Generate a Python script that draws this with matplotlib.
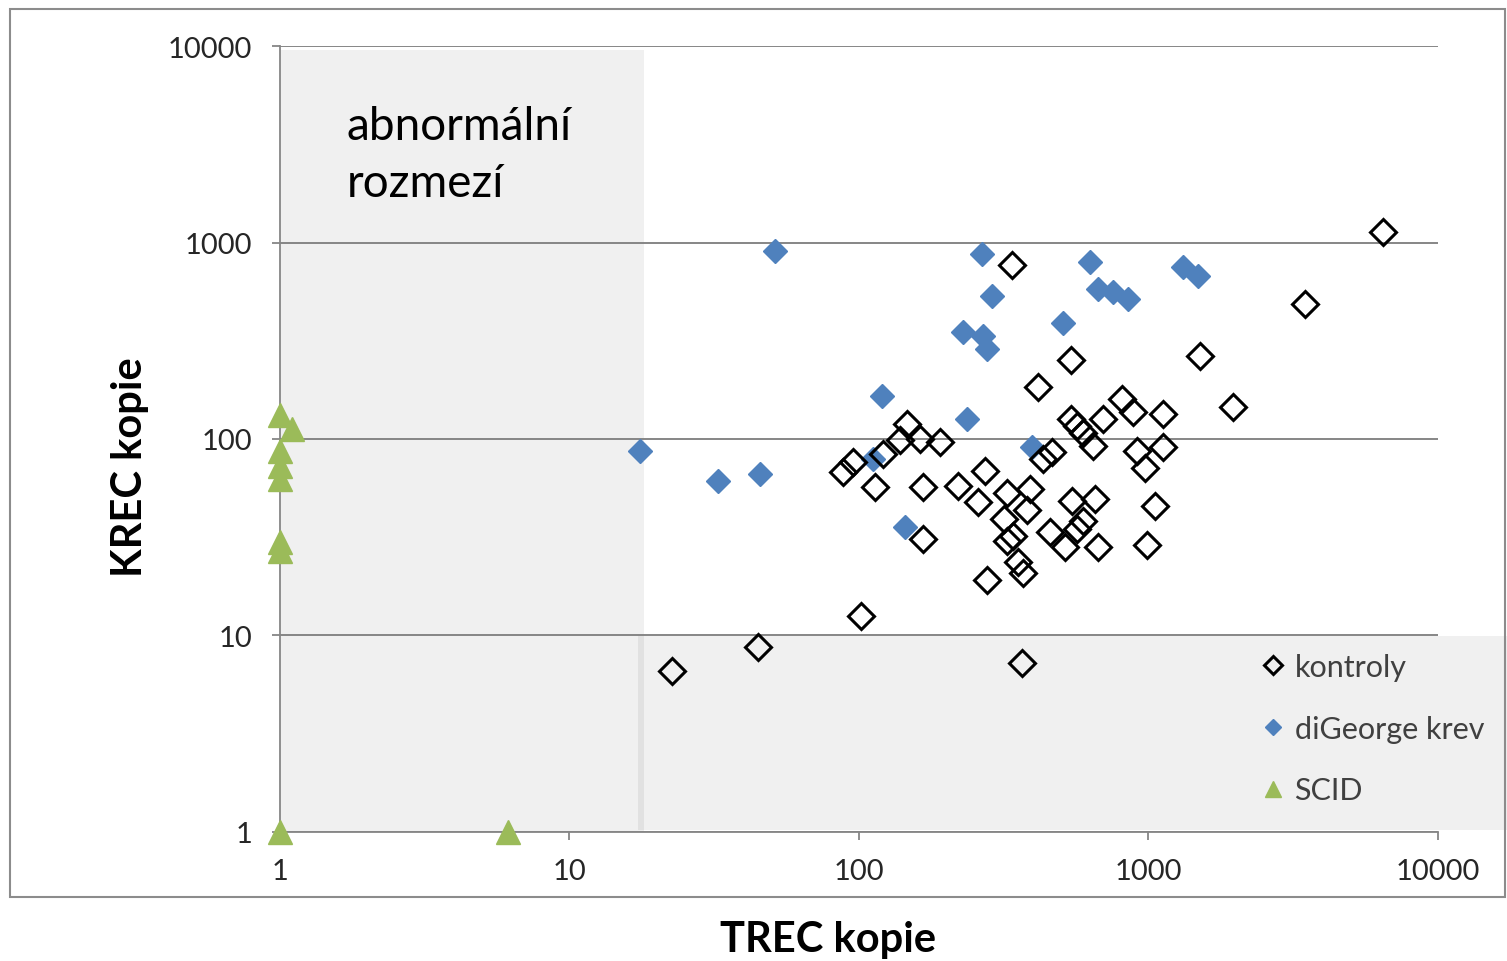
import matplotlib
matplotlib.use('Agg')
import matplotlib.pyplot as plt
from matplotlib.patches import Rectangle

plt.rcParams['font.family'] = ['Lato', 'DejaVu Sans']

# kontroly (TREC, KREC)
kontroly_trec = [6475, 3480, 1510, 1963, 338, 541, 416, 811, 886, 1125, 698, 541, 568, 595,
                 645, 465, 433, 915, 1125, 975, 1055, 990, 671, 516, 458, 545, 655, 595, 568,
                 381, 390, 325, 318, 341, 325, 355, 369, 277, 273, 258, 220, 167, 167, 114,
                 95.5, 88, 121, 139, 147, 163, 191, 102, 45, 22.7, 367]
kontroly_krec = [1135, 488, 265, 146, 771, 253, 184, 160, 137, 134, 127, 127, 117, 107,
                 92, 86, 79, 87, 91, 71, 45.6, 28.9, 28.2, 28.2, 33.6, 48.4, 49.6, 38.3, 34.8,
                 43.5, 55.7, 53.2, 39.2, 32.1, 30.3, 23.7, 20.8, 19.1, 68.8, 47.9, 57.7, 57, 31, 57,
                 76.5, 68, 84, 99, 119, 100, 97, 12.6, 8.75, 6.6, 7.2]

# diGeorge krev
digeorge_trec = [51.3, 266, 288, 230, 269, 277, 509, 120, 236, 17.5, 32.7, 45.6, 112, 144,
                 396, 629, 672, 757, 853, 1315, 1490]
digeorge_krec = [912, 877, 538, 350, 336, 288, 390, 166, 127, 87, 61.4, 66.4, 79.2, 35.5,
                 90.8, 796, 582, 559, 518, 750, 675]

# SCID
scid_trec = [1, 1.1, 1, 1, 1, 1, 1, 1, 6.15]
scid_krec = [132, 112, 87, 73, 62.6, 29.8, 27, 1, 1]

tick_vals = [1, 10, 100, 1000, 10000]
tick_labels = ['1', '10', '100', '1000', '10000']

W, H = 1507, 962
fig = plt.figure(figsize=(W / 100, H / 100), dpi=100)
ax = fig.add_axes([280 / W, 1 - 832.7 / H, (1437.6 - 280) / W, (832.7 - 47.3) / H])
ax.set_facecolor('none')

# sede oblasti (abnormalni rozmezi)
shade = dict(transform=fig.transFigure, facecolor='black', alpha=0.06, edgecolor='none',
             clip_on=False, zorder=0.1)
ax.add_patch(Rectangle((281 / W, 1 - 832 / H), (644 - 281) / W, (832 - 51) / H, **shade))
ax.add_patch(Rectangle((638 / W, 1 - 831 / H), (W - 638) / W, (831 - 637) / H, **shade))

# ramecek grafu
fig.patches.append(Rectangle((10 / W, 1 - 898 / H), (1505 - 10) / W, (898 - 10) / H,
                             transform=fig.transFigure, fill=False, edgecolor='#8c8c8c', lw=1.5))

ax.set_xscale('log')
ax.set_yscale('log')
ax.set_xlim(1, 10000)
ax.set_ylim(1, 10000)

ax.plot(digeorge_trec, digeorge_krec, 'D', ms=12.5, color='#4F81BD', mec='#4F81BD',
        ls='none', label='diGeorge krev', zorder=3, clip_on=False)
ax.plot(kontroly_trec, kontroly_krec, 'D', ms=13.5, mfc='none', mec='black', mew=2.2,
        ls='none', label='kontroly', zorder=4, clip_on=False)
ax.plot(scid_trec, scid_krec, '^', ms=17, color='#9BBB59', mec='#9BBB59',
        ls='none', label='SCID', zorder=5, clip_on=False)

ax.set_xticks(tick_vals)
ax.set_xticklabels(tick_labels)
ax.set_yticks(tick_vals)
ax.set_yticklabels(tick_labels)
ax.minorticks_off()
ax.tick_params(axis='both', colors='#868686', labelcolor='#262626', labelsize=21,
               length=6, width=1.3)
ax.tick_params(axis='x', pad=13)
ax.tick_params(axis='y', pad=14)

ax.grid(axis='y', color='#868686', lw=1.4)
ax.set_axisbelow(True)
for s in ['top', 'right']:
    ax.spines[s].set_visible(False)
for s in ['left', 'bottom']:
    ax.spines[s].set_color('#868686')
    ax.spines[s].set_linewidth(1.3)

ax.text(347 / W, 1 - 197 / H, 'abnormální\nrozmezí', transform=fig.transFigure,
        fontsize=33, color='black', ha='left', va='baseline', linespacing=1.44)

fig.text(130 / W, 1 - 467 / H, 'KREC kopie', rotation=90, ha='center', va='center',
         fontsize=30, fontweight='bold')
fig.text(828 / W, 1 - 940 / H, 'TREC kopie', ha='center', va='center',
         fontsize=30, fontweight='bold')

handles, labels = ax.get_legend_handles_labels()
order = [1, 0, 2]
leg = ax.legend([handles[i] for i in order], [labels[i] for i in order],
                loc='upper left', bbox_to_anchor=(1264 / W, 1 - 654 / H),
                bbox_transform=fig.transFigure, frameon=False, fontsize=22,
                markerscale=0.65, handlelength=0.6, handletextpad=0.4,
                labelspacing=1.1, borderaxespad=0, borderpad=0)
for t in leg.get_texts():
    t.set_color('#404040')

fig.savefig('out.png', dpi=100)
